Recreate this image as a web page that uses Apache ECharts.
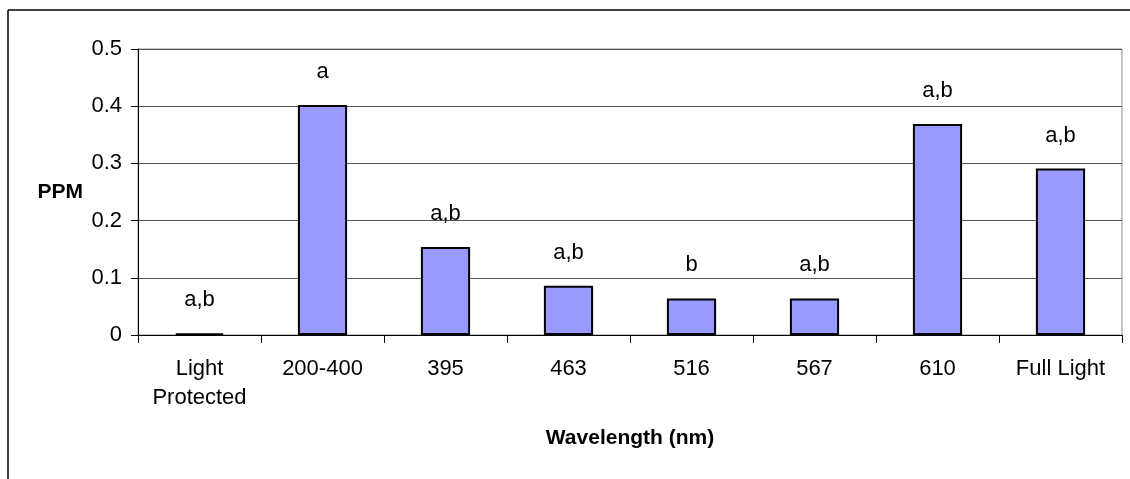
<!DOCTYPE html>
<html>
<head>
<meta charset="utf-8">
<script src="https://cdn.jsdelivr.net/npm/echarts@6/dist/echarts.min.js"></script>
<style>
  html, body { margin: 0; padding: 0; background: #fff; }
  #chart { width: 1130px; height: 479px; }
</style>
</head>
<body>
<div id="chart"></div>
<script>
// Wavelength treatments and measured concentration (PPM)
const categories = ['Light\nProtected', '200-400', '395', '463', '516', '567', '610', 'Full Light'];
const ppmValues = [0.003, 0.402, 0.154, 0.086, 0.064, 0.064, 0.369, 0.291];
// Significance groupings shown above each bar
const groupLetters = ['a,b', 'a', 'a,b', 'a,b', 'b', 'a,b', 'a,b', 'a,b'];
const yTicks = [0, 0.1, 0.2, 0.3, 0.4, 0.5];

const FONT = '"Liberation Sans", Arial, sans-serif';

const chart = echarts.init(document.getElementById('chart'), null, { renderer: 'canvas' });

chart.setOption({
  animation: false,
  backgroundColor: '#ffffff',
  textStyle: { fontFamily: FONT },
  grid: { left: 138, right: 8, top: 49, bottom: 144, show: true, borderColor: '#8c8c8c', borderWidth: 1 },
  graphic: [
    { type: 'line', shape: { x1: 8, y1: 10, x2: 1130, y2: 10 }, style: { stroke: '#000', lineWidth: 1.5 }, z: 10 },
    { type: 'line', shape: { x1: 8, y1: 10, x2: 8, y2: 479 }, style: { stroke: '#000', lineWidth: 1.5 }, z: 10 }
  ],
  xAxis: {
    type: 'category',
    data: categories,
    name: 'Wavelength (nm)',
    nameLocation: 'middle',
    nameGap: 93,
    nameTextStyle: { fontFamily: FONT, fontWeight: 'bold', fontSize: 21, color: '#000' },
    axisLine: { lineStyle: { color: '#000', width: 1 } },
    axisTick: { show: true, length: 8, lineStyle: { color: '#000' } },
    axisLabel: { fontFamily: FONT, fontSize: 22, color: '#000', margin: 19, lineHeight: 29, interval: 0 },
    splitLine: { show: false }
  },
  yAxis: {
    type: 'value',
    min: 0,
    max: 0.5,
    interval: 0.1,
    name: 'PPM',
    nameLocation: 'middle',
    nameRotate: 0,
    nameGap: 55,
    nameTextStyle: { fontFamily: FONT, fontWeight: 'bold', fontSize: 21, color: '#000' },
    axisLine: { show: true, lineStyle: { color: '#000', width: 1 } },
    axisTick: { show: true, length: 7, lineStyle: { color: '#000' } },
    axisLabel: {
      fontFamily: FONT, fontSize: 22, color: '#000', margin: 16,
      formatter: v => {
        const t = yTicks.find(x => Math.abs(x - v) < 1e-9);
        return t === undefined ? '' : String(t);
      }
    },
    splitLine: { show: true, lineStyle: { color: '#555', width: 1 } }
  },
  series: [{
    type: 'bar',
    data: ppmValues,
    barWidth: '40%',
    itemStyle: { color: '#9999ff', borderColor: '#000', borderWidth: 2 },
    label: {
      show: true,
      position: 'top',
      distance: 22,
      fontFamily: FONT,
      fontSize: 22,
      color: '#000',
      formatter: p => groupLetters[p.dataIndex]
    }
  }]
});
</script>
</body>
</html>
